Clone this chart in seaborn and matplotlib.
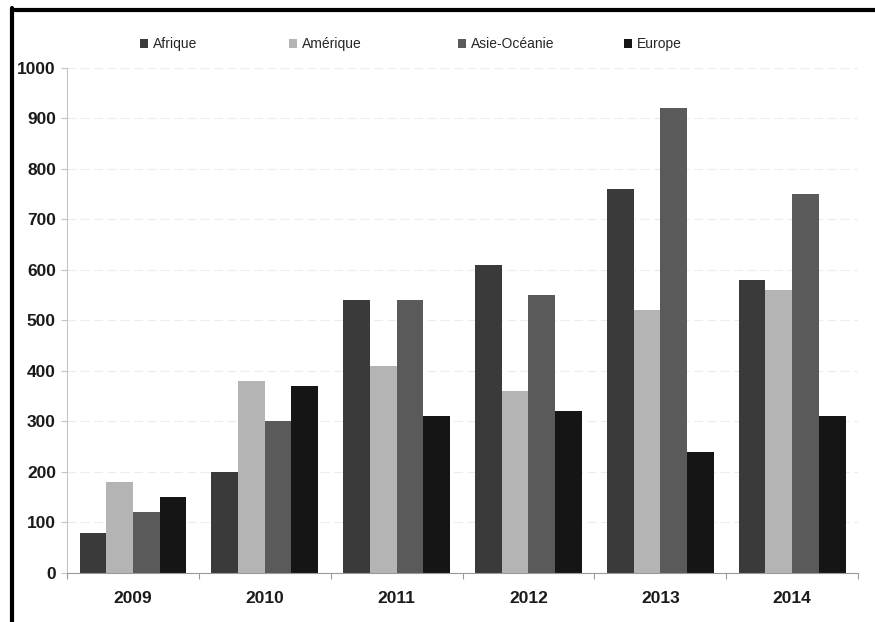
import matplotlib
matplotlib.use("Agg")
import matplotlib.pyplot as plt
from matplotlib.lines import Line2D
from matplotlib.patches import Patch
import numpy as np
import pandas as pd
import seaborn as sns

# Data
years = ["2009", "2010", "2011", "2012", "2013", "2014"]
regions = ["Afrique", "Amérique", "Asie-Océanie", "Europe"]
afrique = [80, 200, 540, 610, 760, 580]
amerique = [180, 380, 410, 360, 520, 560]
asie_oceanie = [120, 300, 540, 550, 920, 750]
europe = [150, 370, 310, 320, 240, 310]
y_ticks = [0, 100, 200, 300, 400, 500, 600, 700, 800, 900, 1000]

series = {"Afrique": afrique, "Amérique": amerique,
          "Asie-Océanie": asie_oceanie, "Europe": europe}
df = pd.DataFrame([
    {"Année": yr, "Région": reg, "Valeur": vals[i]}
    for reg, vals in series.items() for i, yr in enumerate(years)
])

colors = ["#3a3a3a", "#b4b4b4", "#5a5a5a", "#151515"]
palette = dict(zip(regions, colors))

sns.set_theme(style="white")
plt.rcParams["font.family"] = ["Liberation Sans", "DejaVu Sans"]

fig = plt.figure(figsize=(8.75, 6.22), dpi=100)
ax = fig.add_axes([0.0766, 0.0788, 0.904, 0.812])

sns.barplot(data=df, x="Année", y="Valeur", hue="Région", order=years,
            hue_order=regions, palette=palette, saturation=1, width=0.81,
            gap=0, edgecolor="none", linewidth=0, legend=False, ax=ax)

ax.set_xlim(-0.5, len(years) - 0.5)
ax.set_ylim(0, 1000)
ax.set_yticks(y_ticks)
ax.set_yticklabels([str(v) for v in y_ticks], fontsize=12.5, fontweight="bold",
                   color="#1a1a1a")
ax.set_xticks(range(len(years)))
ax.set_xticklabels(years, fontsize=12.5, fontweight="bold", color="#1a1a1a")
ax.set_xticks(np.arange(-0.5, len(years)), minor=True)
ax.set_xlabel("")
ax.set_ylabel("")

ax.yaxis.grid(True, color="#ececec", linewidth=0.8, linestyle=(0, (8, 4)))
ax.set_axisbelow(True)

for side in ["top", "right"]:
    ax.spines[side].set_visible(False)
ax.spines["left"].set_color("#c4c4c4")
ax.spines["bottom"].set_color("#9a9a9a")
ax.spines["left"].set_linewidth(0.8)
ax.spines["bottom"].set_linewidth(0.8)

ax.tick_params(axis="y", which="major", left=True, length=4, width=0.8,
               color="#c4c4c4", pad=4)
ax.tick_params(axis="x", which="major", bottom=False, pad=7)
ax.tick_params(axis="x", which="minor", bottom=True, length=4, width=0.8,
               color="#9a9a9a")

# Legend entries across the top
legend_x = [140, 289, 458, 624]
for reg, xpix in zip(regions, legend_x):
    h = Patch(facecolor=palette[reg], edgecolor="none")
    fig.legend(handles=[h], labels=[reg], loc="center left",
               bbox_to_anchor=(xpix / 875, 1 - 44 / 622), frameon=False,
               handlelength=0.6, handleheight=0.6, handletextpad=0.3,
               borderpad=0, borderaxespad=0,
               prop={"size": 10, "family": ["Liberation Sans", "DejaVu Sans"]})

# Frame lines on the top and left edges
fig.add_artist(Line2D([11.5 / 875, 1.0], [1 - 9.5 / 622, 1 - 9.5 / 622],
                      transform=fig.transFigure, color="black", linewidth=3))
fig.add_artist(Line2D([11.5 / 875, 11.5 / 875], [0.0, 1 - 8 / 622],
                      transform=fig.transFigure, color="black", linewidth=3))

fig.savefig("out.png", dpi=100, facecolor="white")
